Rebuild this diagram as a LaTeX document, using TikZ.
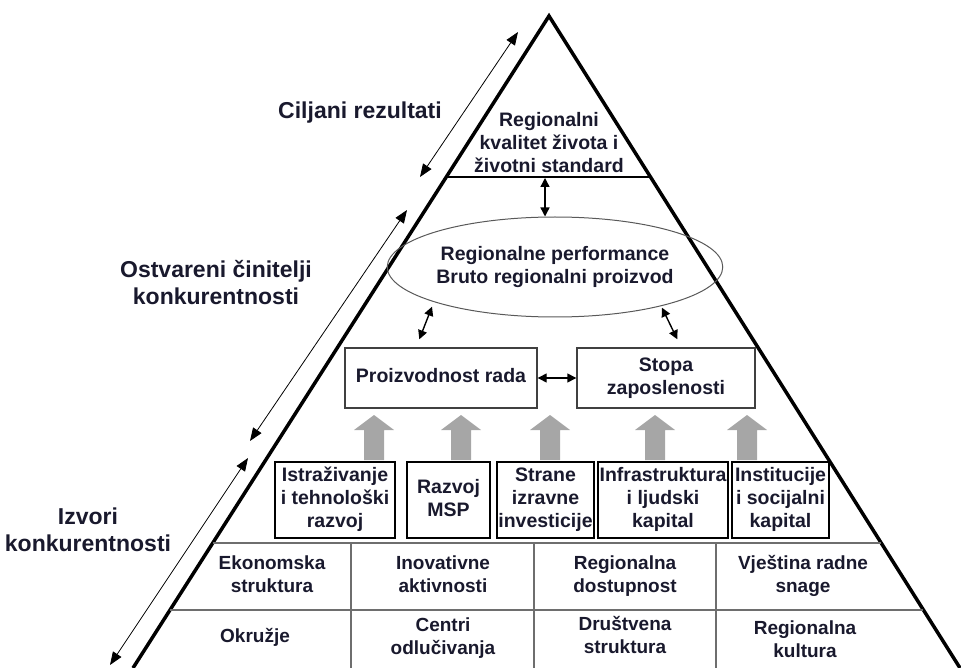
\documentclass[tikz,border=0pt]{standalone}
\usepackage{fontspec}
\setmainfont{Liberation Sans}
\usetikzlibrary{arrows.meta,calc,shapes.geometric}
\definecolor{arrgray}{RGB}{166,166,166}
\definecolor{txtcol}{RGB}{25,25,45}
\definecolor{tblline}{RGB}{110,110,110}
\begin{document}
\begin{tikzpicture}[x=1pt,y=-1pt,
  txt/.style={font=\bfseries\fontsize{19.5}{23}\selectfont, text=txtcol, align=center, inner sep=0pt},
  side/.style={font=\bfseries\fontsize{23}{27}\selectfont, text=txtcol, align=center, inner sep=0pt},
  tbl/.style={font=\bfseries\fontsize{19}{23}\selectfont, text=txtcol, align=center, inner sep=0pt},
  smallbox/.style={txt, draw=black, line width=1.6pt, inner sep=1pt},
  bigbox/.style={txt, draw=black!75, line width=1.4pt, minimum height=60pt},
  sidearrow/.style={line width=0.8pt, {Triangle[length=13pt,width=10pt]}-{Triangle[length=13pt,width=10pt]}},
  dbl/.style={line width=1.4pt, {Triangle[length=9pt,width=9pt]}-{Triangle[length=9pt,width=9pt]}},
  garrow/.pic={\fill[arrgray] (-10,0) -- (-10,-30) -- (-20,-30) -- (0,-45) -- (20,-30) -- (10,-30) -- (10,0) -- cycle;}
]
\useasboundingbox (0,0) rectangle (961,668);
\clip (0,0) rectangle (961,668);

% triangle
\coordinate (apex) at (549,16);
\coordinate (bl) at (133,668);
\coordinate (br) at (960,668);
\draw[line width=3.5pt, line join=miter] (bl) -- (apex) -- (br);

% top section line
\coordinate (tlL) at ($(apex)!{(177-16)/652}!(bl)$);
\coordinate (tlR) at ($(apex)!{(177-16)/652}!(br)$);
\draw[line width=1.1pt] (tlL) -- (tlR);

% table lines
\coordinate (r1L) at ($(apex)!{(543-16)/652}!(bl)$);
\coordinate (r1R) at ($(apex)!{(543-16)/652}!(br)$);
\coordinate (r2L) at ($(apex)!{(610-16)/652}!(bl)$);
\coordinate (r2R) at ($(apex)!{(610-16)/652}!(br)$);
\draw[tblline, line width=1.6pt] (r1L) -- (r1R);
\draw[tblline, line width=1.6pt] (r2L) -- (r2R);
\foreach \xx in {351,534,716} \draw[tblline, line width=1.6pt] (\xx,543) -- (\xx,668);

% top text
\node[txt] (ql) at (549,145) {\strut Regionalni\\\strut kvalitet života i\\\strut životni standard};

% ellipse
\node[txt, ellipse, draw=black!65, line width=1pt, minimum width=266pt, minimum height=100pt] (ell) at (555,267) {\strut Regionalne performance\\\strut Bruto regionalni proizvod};

% boxes
\node[bigbox, minimum width=192pt] (pr) at (441,378) {\strut Proizvodnost rada};
\node[bigbox, minimum width=178pt] (st) at (666,378) {\strut Stopa\\\strut zaposlenosti};

% arrows
\coordinate (tl) at (545,178);
\draw[dbl] (tl) -- (tl |- ell.north);
\draw[dbl] ([shift={(-4,4)}]ell.south west) -- ([shift={(75,-8)}]pr.north west);
\draw[dbl] ([shift={(-12,5)}]ell.south east) -- ([shift={(101,-8)}]st.north west);
\draw[dbl] (pr.east) -- (st.west);

% gray arrows
\foreach \xx in {374,461,550,655,747} \pic at (\xx,460) {garrow};

% small boxes
\node[smallbox, minimum width=120pt, minimum height=76pt] (ist) at (335,500) {\strut Istraživanje\\\strut i tehnološki\\\strut razvoj};
\node[smallbox, minimum width=83pt, minimum height=76pt] (raz) at (448.5,500) {\strut Razvoj\\\strut MSP};
\node[smallbox, minimum width=97pt, minimum height=76pt] (str) at (545.5,500) {\strut Strane\\\strut izravne\\\strut investicije};
\node[smallbox, minimum width=130pt, minimum height=76pt] (inf) at (663,500) {\strut Infrastruktura\\\strut i ljudski\\\strut kapital};
\node[smallbox, minimum width=97pt, minimum height=76pt] (ins) at (780.5,500) {\strut Institucije\\\strut i socijalni\\\strut kapital};

% table texts
\node[tbl] (c11) at (272,576) {\strut Ekonomska\\\strut struktura};
\node[tbl] (c12) at (443,576) {\strut Inovativne\\\strut aktivnosti};
\node[tbl] (c13) at (625,576) {\strut Regionalna\\\strut dostupnost};
\node[tbl] (c14) at (803,576) {\strut Vještina radne\\\strut snage};
\node[tbl] (c21) at (255,638) {\strut Okružje};
\node[tbl] (c22) at (443,638) {\strut Centri\\\strut odlučivanja};
\node[tbl] (c23) at (625,637) {\strut Društvena\\\strut struktura};
\node[tbl] (c24) at (805,641) {\strut Regionalna\\\strut kultura};

% side labels
\node[side] (l1) at (360,113) {Ciljani rezultati};
\node[side] (l2) at (216,283) {Ostvareni činitelji\\konkurentnosti};
\node[side] (l3) at (88,530) {Izvori\\konkurentnosti};

% side arrows
\coordinate (s1a) at (518,32);
\coordinate (s1b) at (420,177);
\coordinate (s2a) at (407,210);
\coordinate (s2b) at (250,441);
\coordinate (s3a) at (248,458);
\coordinate (s3b) at (110,665);
\draw[sidearrow] (s1a) -- (s1b);
\draw[sidearrow] (s2a) -- (s2b);
\draw[sidearrow] (s3a) -- (s3b);
\end{tikzpicture}
\end{document}
